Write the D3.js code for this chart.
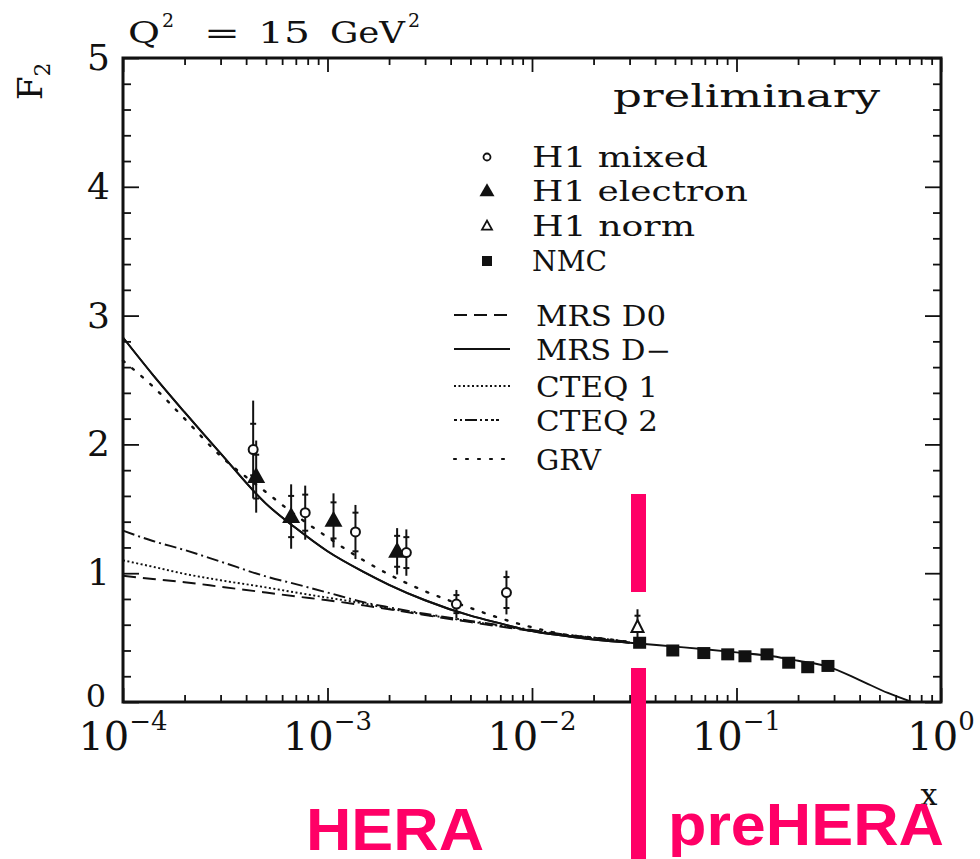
<!DOCTYPE html>
<html>
<head>
<meta charset="utf-8">
<script src="https://cdn.jsdelivr.net/npm/d3@7"></script>
<style>
  body { margin: 0; background: #fff; }
  svg { display: block; }
</style>
</head>
<body>
<svg id="chart" width="980" height="859"></svg>
<script>
// ---- measurements: F2 at Q^2 = 15 GeV^2 ----
const xMixed    = [4.33e-4, 7.78e-4, 1.37e-3, 2.43e-3, 4.27e-3, 7.5e-3];
const f2Mixed   = [1.96, 1.47, 1.32, 1.16, 0.76, 0.85];
const totMixed  = [0.38, 0.21, 0.21, 0.18, 0.11, 0.17];
const statMixed = [0.20, 0.14, 0.15, 0.12, 0.07, 0.12];

const xElectron    = [4.48e-4, 6.64e-4, 1.07e-3, 2.19e-3];
const f2Electron   = [1.75, 1.44, 1.41, 1.17];
const totElectron  = [0.28, 0.25, 0.21, 0.18];
const statElectron = [0.17, 0.16, 0.14, 0.12];

const xNorm    = [0.0328];
const f2Norm   = [0.58];
const totNorm  = [0.14];
const statNorm = [0.09];

const xNMC  = [0.0336, 0.0488, 0.0692, 0.0906, 0.110, 0.141, 0.180, 0.223, 0.280];
const f2NMC = [0.46, 0.40, 0.38, 0.37, 0.355, 0.37, 0.305, 0.27, 0.28];

// ---- parametrisations ----
const xTheory  = [1e-4, 1.4e-4, 2e-4, 3e-4, 5e-4, 7e-4, 1e-3, 1.5e-3, 2e-3, 3e-3, 5e-3, 7e-3, 1e-2, 1.5e-2, 2e-2, 3e-2];
const mrsD0    = [0.98, 0.955, 0.93, 0.895, 0.85, 0.82, 0.79, 0.75, 0.72, 0.675, 0.62, 0.585, 0.55, 0.515, 0.495, 0.46];
const mrsDm    = [2.83, 2.54, 2.25, 1.93, 1.54, 1.35, 1.17, 1.01, 0.91, 0.79, 0.67, 0.61, 0.55, 0.51, 0.485, 0.46];
const cteq1    = [1.10, 1.05, 0.995, 0.945, 0.89, 0.85, 0.81, 0.765, 0.725, 0.68, 0.625, 0.59, 0.555, 0.52, 0.50, 0.465];
const cteq2    = [1.33, 1.25, 1.18, 1.09, 0.975, 0.915, 0.85, 0.775, 0.735, 0.685, 0.63, 0.595, 0.56, 0.52, 0.50, 0.465];
const grv      = [2.65, 2.45, 2.20, 1.91, 1.63, 1.45, 1.28, 1.10, 0.99, 0.86, 0.73, 0.65, 0.58, 0.52, 0.50, 0.465];
// MRS D- continues to large x
const xTheoryHigh = [0.05, 0.07, 0.1, 0.15, 0.2, 0.28, 0.4, 0.55, 0.72];
const mrsDmHigh   = [0.43, 0.41, 0.385, 0.355, 0.32, 0.275, 0.17, 0.07, 0.0];

// ---- axis ticks ----
const xMajorTicks = [1e-4, 1e-3, 1e-2, 1e-1, 1];
const xTickLabels = [["10", "\u22124"], ["10", "\u22123"], ["10", "\u22122"], ["10", "\u22121"], ["10", "0"]];
const yMajorTicks = [0, 1, 2, 3, 4, 5];

const legendMarkers = ["H1 mixed", "H1 electron", "H1 norm", "NMC"];
const legendLines   = ["MRS D0", "MRS D\u2212", "CTEQ 1", "CTEQ 2", "GRV"];

const PINK = "#ff0066";
const SERIF = "'DejaVu Serif', 'Liberation Serif', serif";

const svg = d3.select("#chart");
const x = d3.scaleLog().domain([1e-4, 1]).range([123, 941]);
const y = d3.scaleLinear().domain([0, 5]).range([702, 58]);
const [x0, x1] = x.range();
const [y0, y1] = y.range();

// minor ticks
const xMinorTicks = [];
for (let d = -4; d < 0; d++) for (let k = 2; k <= 9; k++) xMinorTicks.push(k * Math.pow(10, d));
const yMinorTicks = d3.range(0, 5.001, 0.2).filter(v => Math.abs(v - Math.round(v)) > 1e-6);

function drawAxis(axis, tx, ty) {
  const g = svg.append("g").attr("transform", `translate(${tx},${ty})`).call(axis);
  g.select(".domain").remove();
  g.selectAll(".tick line").attr("stroke", "#111").attr("stroke-width", 1.8);
  g.selectAll(".tick text").remove();
}
drawAxis(d3.axisBottom(x).tickValues(xMinorTicks).tickSize(-7).tickFormat(""), 0, y0);
drawAxis(d3.axisBottom(x).tickValues(xMajorTicks).tickSize(-14).tickFormat(""), 0, y0);
drawAxis(d3.axisTop(x).tickValues(xMinorTicks).tickSize(-7).tickFormat(""), 0, y1);
drawAxis(d3.axisTop(x).tickValues(xMajorTicks).tickSize(-14).tickFormat(""), 0, y1);
drawAxis(d3.axisLeft(y).tickValues(yMinorTicks).tickSize(-8).tickFormat(""), x0, 0);
drawAxis(d3.axisLeft(y).tickValues(yMajorTicks).tickSize(-16).tickFormat(""), x0, 0);
drawAxis(d3.axisRight(y).tickValues(yMinorTicks).tickSize(-8).tickFormat(""), x1, 0);
drawAxis(d3.axisRight(y).tickValues(yMajorTicks).tickSize(-16).tickFormat(""), x1, 0);

// frame
svg.append("rect")
  .attr("x", x0).attr("y", y1).attr("width", x1 - x0).attr("height", y0 - y1)
  .attr("fill", "none").attr("stroke", "#111").attr("stroke-width", 3);

// y tick labels (the zero sits a little higher and further left, clear of 10^-4)
svg.append("g").selectAll("text").data(yMajorTicks).join("text")
  .attr("x", d => d === 0 ? 106 : 110)
  .attr("y", d => y(d) + (d === 0 ? 5 : 12))
  .attr("text-anchor", "end")
  .attr("font-family", SERIF).attr("font-size", d => d === 0 ? 32 : 36).attr("fill", "#111")
  .text(d => d);

// x tick labels with exponents
const xl = svg.append("g").selectAll("text").data(xMajorTicks).join("text")
  .attr("x", d => x(d)).attr("y", 750)
  .attr("text-anchor", "middle")
  .attr("font-family", SERIF).attr("font-size", 40).attr("fill", "#111");
xl.append("tspan").text((d, i) => xTickLabels[i][0]);
xl.append("tspan").attr("dy", -20).attr("font-size", 26).text((d, i) => xTickLabels[i][1]);

// axis titles
svg.append("text")
  .attr("transform", "translate(42,100) rotate(-90)")
  .attr("font-family", SERIF).attr("font-size", 34).attr("fill", "#111")
  .call(t => {
    t.append("tspan").text("F");
    t.append("tspan").attr("dy", 8).attr("font-size", 22).text("2");
  });
svg.append("text")
  .attr("x", 929).attr("y", 805).attr("text-anchor", "middle")
  .attr("font-family", SERIF).attr("font-size", 30).attr("fill", "#111")
  .text("x");

// title: Q^2 = 15 GeV^2
const title = svg.append("g").attr("font-family", SERIF).attr("fill", "#111");
title.append("text").attr("x", 128).attr("y", 43).attr("font-size", 30)
  .attr("textLength", 32).attr("lengthAdjust", "spacingAndGlyphs").text("Q");
title.append("text").attr("x", 162).attr("y", 27).attr("font-size", 19).text("2");
title.append("text").attr("x", 204).attr("y", 43).attr("font-size", 30)
  .attr("textLength", 36).attr("lengthAdjust", "spacingAndGlyphs").text("=");
title.append("text").attr("x", 258).attr("y", 43).attr("font-size", 30)
  .attr("textLength", 52).attr("lengthAdjust", "spacingAndGlyphs").text("15");
title.append("text").attr("x", 330).attr("y", 43).attr("font-size", 30)
  .attr("textLength", 75).attr("lengthAdjust", "spacingAndGlyphs").text("GeV");
title.append("text").attr("x", 408).attr("y", 27).attr("font-size", 19).text("2");

svg.append("text")
  .attr("x", 613).attr("y", 107)
  .attr("font-family", SERIF).attr("font-size", 31).attr("fill", "#111")
  .attr("textLength", 267).attr("lengthAdjust", "spacingAndGlyphs")
  .text("preliminary");

// ---- theory curves ----
const curveStyles = [
  { vals: mrsD0, dash: "13,7" },
  { vals: cteq1, dash: "2,2.5" },
  { vals: cteq2, dash: "12,4,2,4" },
  { vals: grv,   dash: "2,10" },
  { vals: mrsDm, dash: null }
];
const line = d3.line().x(d => x(d[0])).y(d => y(d[1])).curve(d3.curveMonotoneX);
const curves = svg.append("g").attr("fill", "none").attr("stroke", "#111");
curveStyles.forEach(c => {
  const pts = xTheory.map((xv, i) => [xv, c.vals[i]]);
  curves.append("path").attr("d", line(pts))
    .attr("stroke-width", c.dash === "2,10" ? 2.4 : 1.9)
    .attr("stroke-linecap", c.dash === "2,10" ? "round" : "butt")
    .attr("stroke-dasharray", c.dash);
});
{
  const pts = xTheory.map((xv, i) => [xv, mrsDm[i]])
    .concat(xTheoryHigh.map((xv, i) => [xv, mrsDmHigh[i]]));
  curves.append("path").attr("d", line(pts)).attr("stroke-width", 1.9);
}

// ---- markers ----
function triPath(cx, cy, w, h) {
  return `M${cx},${cy - h * 0.6}L${cx - w / 2},${cy + h * 0.4}L${cx + w / 2},${cy + h * 0.4}Z`;
}
function errorBars(g, xs, vs, tot, stat) {
  xs.forEach((xv, i) => {
    const cx = x(xv);
    g.append("line").attr("x1", cx).attr("x2", cx)
      .attr("y1", y(vs[i] - tot[i])).attr("y2", y(vs[i] + tot[i]))
      .attr("stroke", "#111").attr("stroke-width", 2);
    [vs[i] - stat[i], vs[i] + stat[i]].forEach(v => {
      g.append("line").attr("x1", cx - 3).attr("x2", cx + 3)
        .attr("y1", y(v)).attr("y2", y(v))
        .attr("stroke", "#111").attr("stroke-width", 2);
    });
  });
}
const pts = svg.append("g");
errorBars(pts, xMixed, f2Mixed, totMixed, statMixed);
errorBars(pts, xElectron, f2Electron, totElectron, statElectron);
errorBars(pts, xNorm, f2Norm, totNorm, statNorm);

pts.selectAll(".tri-e").data(xElectron).join("path")
  .attr("d", (d, i) => triPath(x(d), y(f2Electron[i]), 18, 16))
  .attr("fill", "#111");
pts.selectAll(".circ").data(xMixed).join("circle")
  .attr("cx", d => x(d)).attr("cy", (d, i) => y(f2Mixed[i])).attr("r", 4.5)
  .attr("fill", "#fff").attr("stroke", "#111").attr("stroke-width", 2);
pts.selectAll(".tri-n").data(xNorm).join("path")
  .attr("d", (d, i) => triPath(x(d), y(f2Norm[i]), 12, 12))
  .attr("fill", "#fff").attr("stroke", "#111").attr("stroke-width", 2);
pts.selectAll(".sq").data(xNMC).join("rect")
  .attr("x", d => x(d) - 6.5).attr("y", (d, i) => y(f2NMC[i]) - 6)
  .attr("width", 13).attr("height", 12).attr("fill", "#111");

// ---- legend ----
const leg = svg.append("g").attr("font-family", SERIF).attr("fill", "#111");
const markerRowsY = [157, 191, 226, 261];
const markerLens = [176, 216, 163, 75];
legendMarkers.forEach((name, i) => {
  leg.append("text").attr("x", 532).attr("y", markerRowsY[i] + 10)
    .attr("font-size", 27).attr("textLength", markerLens[i]).attr("lengthAdjust", "spacingAndGlyphs")
    .text(name);
});
leg.append("circle").attr("cx", 487).attr("cy", markerRowsY[0]).attr("r", 3.5)
  .attr("fill", "#fff").attr("stroke", "#111").attr("stroke-width", 1.8);
leg.append("path").attr("d", triPath(487, markerRowsY[1], 15, 13)).attr("fill", "#111");
leg.append("path").attr("d", triPath(487, markerRowsY[2], 10, 9))
  .attr("fill", "#fff").attr("stroke", "#111").attr("stroke-width", 1.8);
leg.append("rect").attr("x", 482).attr("y", markerRowsY[3] - 5).attr("width", 10).attr("height", 10)
  .attr("fill", "#111");

const lineRowsY = [315, 349, 386, 420, 459];
const lineLens = [130, 135, 122, 122, 65];
const lineDash = ["13,7", null, "2,2.5", "3,3,2,3,12,3,2,3,3", "2,10"];
legendLines.forEach((name, i) => {
  leg.append("line").attr("x1", 454).attr("x2", 510)
    .attr("y1", lineRowsY[i]).attr("y2", lineRowsY[i])
    .attr("stroke", "#111").attr("stroke-width", i === 4 ? 2.2 : 1.9)
    .attr("stroke-linecap", i === 4 ? "round" : "butt")
    .attr("stroke-dasharray", lineDash[i]);
  leg.append("text").attr("x", 536).attr("y", lineRowsY[i] + 11)
    .attr("font-size", 27).attr("textLength", lineLens[i]).attr("lengthAdjust", "spacingAndGlyphs")
    .text(name);
});

// ---- HERA / preHERA divider ----
const divX = 638;
svg.append("rect").attr("x", divX - 7).attr("y", 494).attr("width", 15).attr("height", 98).attr("fill", PINK);
svg.append("rect").attr("x", divX - 7).attr("y", 668).attr("width", 15).attr("height", 191).attr("fill", PINK);
svg.append("text").attr("x", 306).attr("y", 850)
  .attr("font-family", "'Liberation Sans', Arial, sans-serif").attr("font-weight", "bold")
  .attr("font-size", 60).attr("fill", PINK)
  .attr("textLength", 178).attr("lengthAdjust", "spacingAndGlyphs")
  .text("HERA");
svg.append("text").attr("x", 668).attr("y", 845)
  .attr("font-family", "'Liberation Sans', Arial, sans-serif").attr("font-weight", "bold")
  .attr("font-size", 60).attr("fill", PINK)
  .attr("textLength", 276).attr("lengthAdjust", "spacingAndGlyphs")
  .text("preHERA");
</script>
</body>
</html>
